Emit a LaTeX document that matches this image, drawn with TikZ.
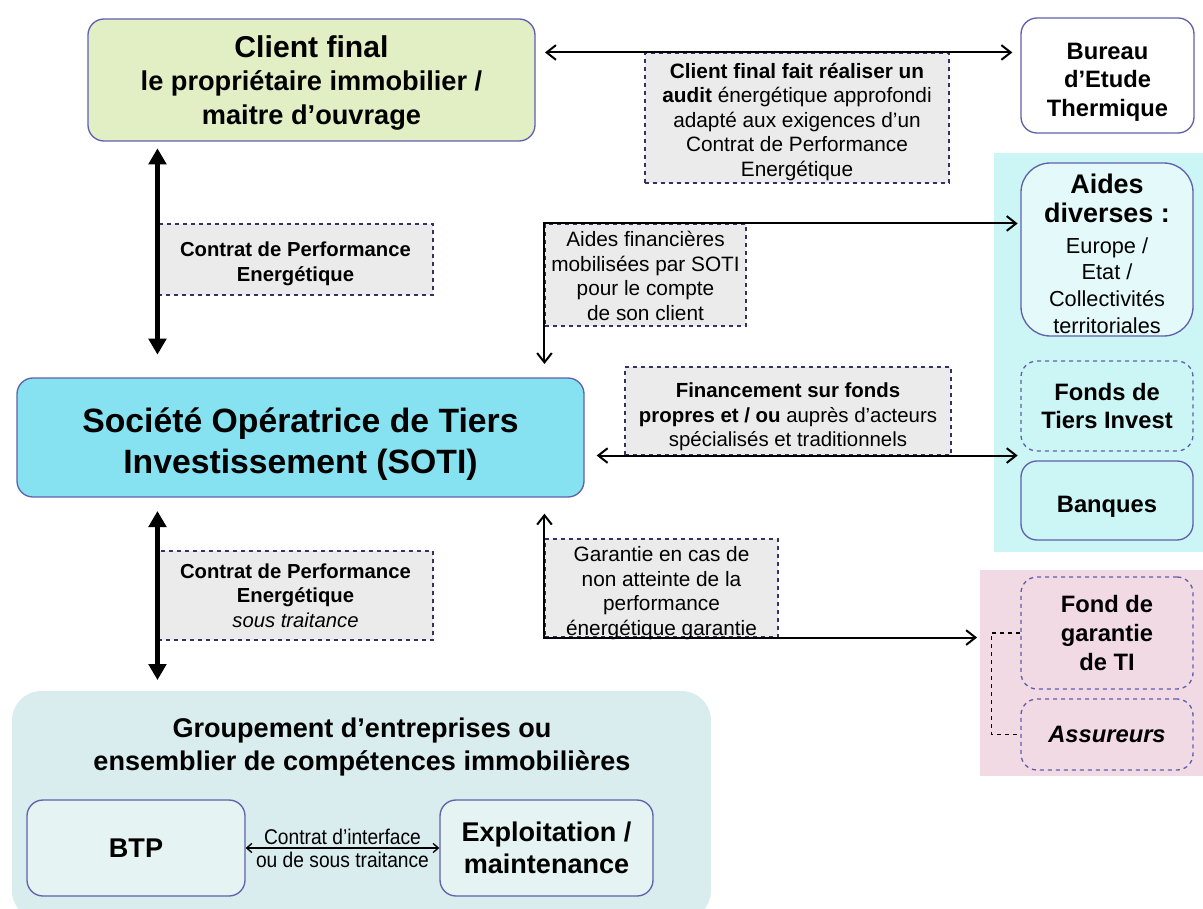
\documentclass[tikz,border=0pt]{standalone}
\usepackage{fontspec}
\setmainfont{Liberation Sans}
\newfontfamily\narrowfont[FakeStretch=0.9]{Liberation Sans}
\usetikzlibrary{arrows.meta}
\definecolor{boxblue}{RGB}{96,96,172}
\definecolor{lblnavy}{RGB}{50,50,100}
\definecolor{lblgray}{RGB}{235,235,235}
\definecolor{clientgreen}{RGB}{226,239,196}
\definecolor{soticyan}{RGB}{134,225,240}
\definecolor{aidpanel}{RGB}{204,246,246}
\definecolor{aidfill}{RGB}{228,249,249}
\definecolor{garpink}{RGB}{242,218,228}
\definecolor{grpteal}{RGB}{218,237,238}
\definecolor{grpfill}{RGB}{230,243,243}
\newcommand{\lift}[1]{\rule{0pt}{#1}}

\begin{document}
\begin{tikzpicture}[x=0.75pt,y=-0.75pt,
    box/.style={draw=boxblue,line width=1pt,rounded corners=12pt,align=center,inner sep=0pt},
    lbl/.style={draw=lblnavy,dashed,fill=lblgray,align=center,inner sep=0pt,line width=0.8pt,
      font=\fontsize{15.6}{18.4}\selectfont},
    big/.style={font=\fontsize{17.8}{21.4}\selectfont\bfseries},
    flat/.style={text depth=0pt},
    link/.style={line width=1.5pt,{Straight Barb[length=7pt,width=11pt]}-{Straight Barb[length=7pt,width=11pt]}},
    bigarrow/.style={line width=4.2pt,{Triangle[length=12pt,width=13pt]}-{Triangle[length=12pt,width=13pt]}},
    ]
    \useasboundingbox (0,0) rectangle (1203,909);
    % panels
    \node[fill=aidpanel,minimum width=156.75pt,minimum height=299.25pt,inner sep=0pt] (aidzone) at (1098.5,352.5) {};
    \node[fill=garpink,minimum width=167.25pt,minimum height=154.5pt,inner sep=0pt] (garzone) at (1091.5,673) {};
    \node[fill=grpteal,rounded corners=22pt,minimum width=524.25pt,minimum height=171.75pt,inner sep=0pt] (grp) at (361.5,805.5) {};
    \node[font=\fontsize{20.3}{24.75}\selectfont\bfseries,align=center] (grptitle) at (362,747)
      {Groupement d’entreprises ou\\ensemblier de compétences immobilières};
    % main boxes
    \node[box,flat,fill=clientgreen,minimum width=335.25pt,minimum height=91.5pt,font=\fontsize{20.4}{25}\selectfont\bfseries] (client) at (311.5,80)
      {{\fontsize{22.6}{25}\selectfont Client final}\\le propriétaire immobilier /\\maitre d’ouvrage};
    \node[box,flat,fill=white,minimum width=129.75pt,minimum height=86.25pt,big] (bureau) at (1107.5,75.5)
      {\lift{18.5pt}Bureau\\d’Etude\\Thermique};
    \node[box,flat,fill=soticyan,minimum width=425.25pt,minimum height=89.25pt,font=\fontsize{25.3}{30.75}\selectfont\bfseries] (soti) at (300.5,437.5)
      {\lift{23pt}Société Opératrice de Tiers\\Investissement (SOTI)};
    \node[box,flat,fill=aidfill,rounded corners=22pt,minimum width=129pt,minimum height=129.75pt,font=\fontsize{16.3}{20}\selectfont] (aides) at (1107,249.5)
      {\lift{20.5pt}\textbf{\fontsize{20.2}{21.75}\selectfont Aides}\\[2pt]\textbf{\fontsize{20.2}{21.75}\selectfont diverses :}\\[3pt]Europe /\\Etat /\\Collectivités\\territoriales};
    \node[box,dashed,fill=aidpanel,minimum width=129pt,minimum height=67.5pt,big] (fondsti) at (1107,406)
      {Fonds de\\Tiers Invest};
    \node[box,flat,fill=aidpanel,minimum width=129pt,minimum height=59.25pt,big] (banques) at (1107,500.5)
      {\lift{18pt}Banques};
    \node[box,dashed,minimum width=129pt,minimum height=84pt,big] (fondgar) at (1107,633)
      {Fond de\\garantie\\de TI};
    \node[box,dashed,minimum width=129pt,minimum height=53.25pt,font=\fontsize{17.8}{21.4}\selectfont\bfseries\itshape] (assur) at (1107,734.5)
      {Assureurs};
    \node[box,fill=grpfill,minimum width=163.5pt,minimum height=72pt,font=\fontsize{20.3}{24}\selectfont\bfseries] (btp) at (136,848)
      {BTP};
    \node[box,fill=grpfill,minimum width=159.75pt,minimum height=72pt,font=\fontsize{20.3}{24}\selectfont\bfseries] (exploit) at (546.5,848)
      {Exploitation /\\maintenance};
    % labels
    \node[lbl,flat,minimum width=206.25pt,minimum height=53.25pt,font=\fontsize{15.2}{18.3}\selectfont\bfseries] (cpe) at (295.5,259.5)
      {\lift{14pt}Contrat de Performance\\Energétique};
    \node[lbl,flat,minimum width=206.25pt,minimum height=66.75pt,font=\fontsize{15.2}{18.3}\selectfont] (cpest) at (295.5,595.5)
      {\textbf{Contrat de Performance}\\\textbf{Energétique}\\\textit{sous traitance}};
    \node[lbl,flat,minimum width=228pt,minimum height=97.5pt] (audit) at (797,118)
      {\lift{14.2pt}\textbf{Client final fait réaliser un}\\\textbf{audit} énergétique approfondi\\adapté aux exigences d’un\\Contrat de Performance\\Energétique};
    \node[lbl,flat,minimum width=150.75pt,minimum height=76.5pt] (aidfin) at (645.5,275)
      {\lift{13pt}Aides financières\\mobilisées par SOTI\\pour le compte\\de son client};
    \node[lbl,flat,minimum width=244.5pt,minimum height=66pt,font=\fontsize{15.3}{18.3}\selectfont] (finance) at (788,411)
      {\lift{17pt}\textbf{Financement sur fonds}\\\textbf{propres et / ou} auprès d’acteurs\\spécialisés et traditionnels};
    \node[lbl,flat,minimum width=174.75pt,minimum height=73.5pt] (garantie) at (661.5,588)
      {\lift{15.7pt}Garantie en cas de\\non atteinte de la\\performance\\énergétique garantie};
    % connectors
    \draw[bigarrow,shorten <=5pt,shorten >=17pt] (client.south -| cpe.west) -- (soti.north -| cpe.west);
    \draw[bigarrow,shorten <=10pt,shorten >=8pt] (soti.south -| cpe.west) -- (grp.north -| cpe.west);
    \draw[link,shorten <=7pt,shorten >=6pt] (client.east |- audit.north) -- (bureau.west |- audit.north);
    \draw[link,shorten <=2pt,shorten >=10pt] (aides.west |- aidfin.north) -| (soti.north -| aidfin.west);
    \draw[link,shorten <=9pt,shorten >=2pt] (soti.east |- finance.south) -- (banques.west |- finance.south);
    \draw[link,shorten <=12pt,shorten >=2pt] (soti.south -| garantie.west) |- (garzone.west |- garantie.south);
    \draw[dashed,line width=1pt] (fondgar.west) -- ++(-29,0) |- (assur.west);
    \draw[line width=1pt,{Straight Barb[length=4pt,width=7pt]}-{Straight Barb[length=4pt,width=7pt]}] (btp.east) -- (exploit.west)
      node[midway,above=-1pt,font=\narrowfont\fontsize{16}{18}\selectfont] {Contrat d’interface}
      node[midway,below=-1pt,font=\narrowfont\fontsize{16}{18}\selectfont] {ou de sous traitance};
\end{tikzpicture}
\end{document}
